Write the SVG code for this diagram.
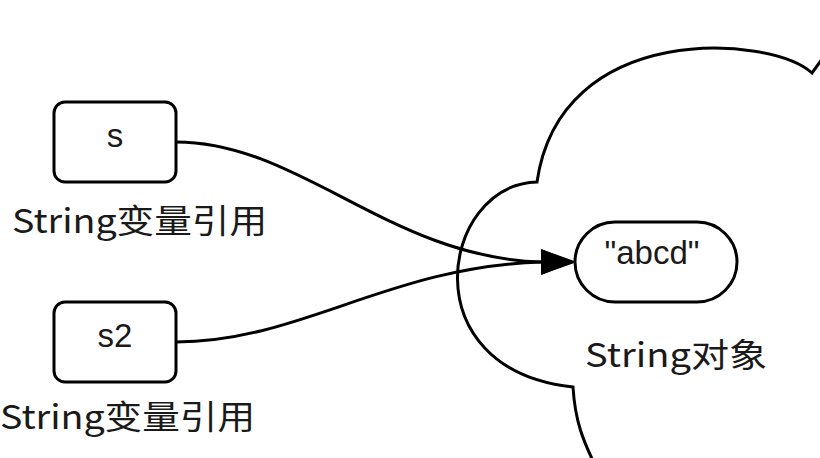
<svg xmlns="http://www.w3.org/2000/svg" width="820" height="458" viewBox="0 0 820 458">
<style>
.shape{fill:#fff;stroke:#000;stroke-width:3}
.edge{fill:none;stroke:#000;stroke-width:3}
.cloud{fill:none;stroke:#000;stroke-width:3;stroke-linejoin:miter}
.lbl{font-family:"Liberation Sans",Arial,sans-serif;font-size:33px;fill:#1a1a1a;text-anchor:middle}
.cap{font-family:"Noto Sans CJK SC","Noto Sans",sans-serif;font-size:33px;fill:#1a1a1a}
</style>
<defs>
<marker id="arrow" markerUnits="userSpaceOnUse" markerWidth="34" markerHeight="26" refX="1" refY="13" orient="auto" viewBox="0 0 34 26">
<polygon points="0,0 34,13 0,26" fill="#000"/>
</marker>
</defs>
<rect width="820" height="458" fill="#fff"/>
<g id="cloud">
<path class="cloud" d="M830,48 L812,73 C770,35 560,20 537,182 C440,185 410,370 573,387 C575,420 582,440 600,475"/>
<text class="cap" x="585" y="367" textLength="182" lengthAdjust="spacingAndGlyphs">String对象</text>
</g>
<g id="connectors">
<path class="edge" d="M176,142 C300,142 390,258 542,262" marker-end="url(#arrow)"/>
<path class="edge" d="M176,342 C300,342 390,266 542,262" marker-end="url(#arrow)"/>
</g>
<g id="node-s">
<rect class="shape" x="54" y="102" width="122" height="80" rx="11"/>
<text class="lbl" x="115" y="147">s</text>
<text class="cap" x="12" y="233" textLength="255" lengthAdjust="spacingAndGlyphs">String变量引用</text>
</g>
<g id="node-s2">
<rect class="shape" x="54" y="302" width="122" height="80" rx="11"/>
<text class="lbl" x="115" y="347">s2</text>
<text class="cap" x="0" y="429" textLength="255" lengthAdjust="spacingAndGlyphs">String变量引用</text>
</g>
<g id="node-abcd">
<rect class="shape" x="575" y="222" width="162" height="80" rx="40"/>
<text class="lbl" x="652" y="264">"abcd"</text>
</g>
</svg>
